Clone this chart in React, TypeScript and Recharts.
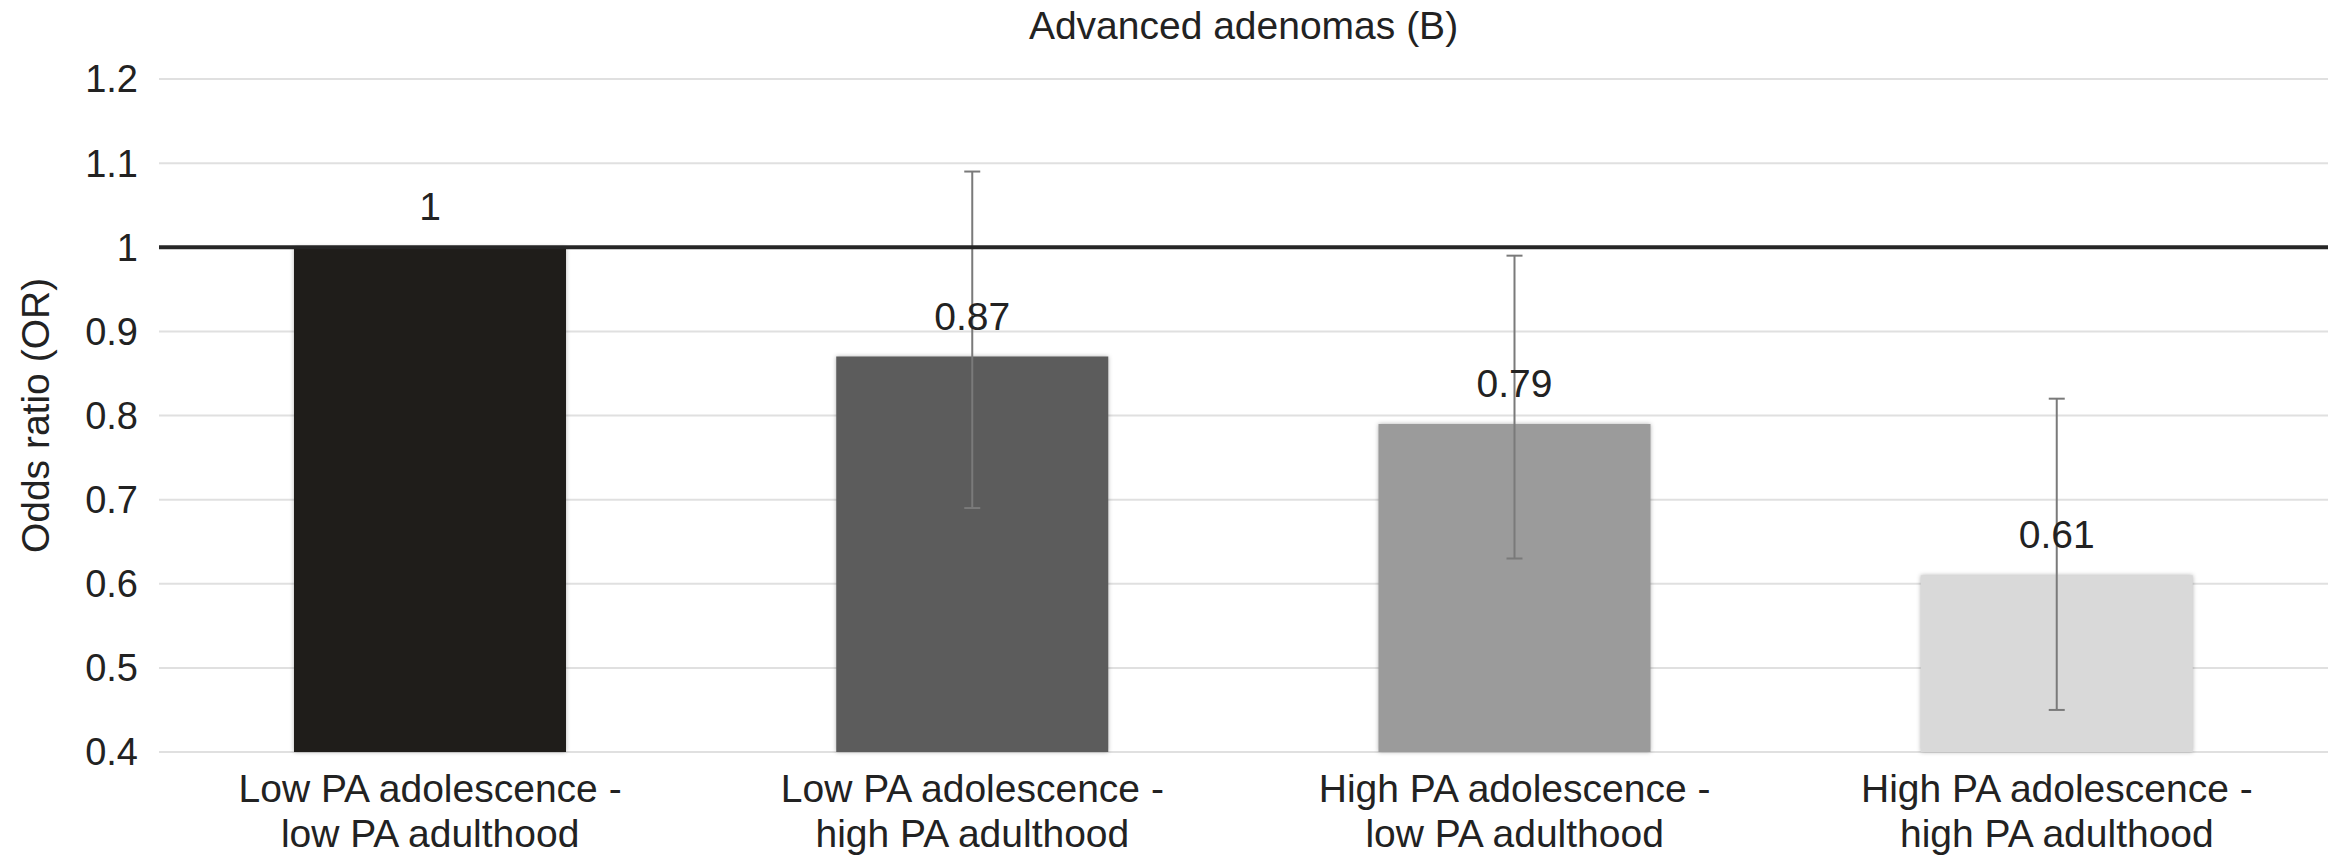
import React from 'react';
import {
  ComposedChart,
  Bar,
  XAxis,
  YAxis,
  CartesianGrid,
  ReferenceLine,
  ErrorBar,
  LabelList,
  Cell,
} from 'recharts';

// PA groups (adolescence - adulthood), two lines per axis label
const groups = [
  'Low PA adolescence -\nlow PA adulthood',
  'Low PA adolescence -\nhigh PA adulthood',
  'High PA adolescence -\nlow PA adulthood',
  'High PA adolescence -\nhigh PA adulthood',
];
const oddsRatio = [1, 0.87, 0.79, 0.61];
const ciLower = [1, 0.69, 0.63, 0.45];
const ciUpper = [1, 1.09, 0.99, 0.82];
const barColors = ['#1f1d1a', '#5c5c5c', '#9b9b9b', '#d9d9d9'];
const yTicks = [0.4, 0.5, 0.6, 0.7, 0.8, 0.9, 1, 1.1, 1.2];

const data = groups.map((name, i) => ({
  name,
  or: oddsRatio[i],
  ci: [oddsRatio[i] - ciLower[i], ciUpper[i] - oddsRatio[i]],
}));

const FONT = '"Liberation Sans", Arial, Helvetica, sans-serif';
const TEXT = '#222';
const FS = 39;

const GroupTick = ({ x, y, payload }: any) => {
  const lines = String(payload.value).split('\n');
  return (
    <text x={x} y={y} textAnchor="middle" fill={TEXT} fontSize={FS} fontFamily={FONT}>
      {lines.map((line, i) => (
        <tspan key={i} x={x} dy={i === 0 ? 50 : 45}>
          {line}
        </tspan>
      ))}
    </text>
  );
};

const fmt = (v: number) => String(Number(v.toFixed(2)));

export default function App() {
  return (
    <div style={{ position: 'absolute', left: 0, top: 0, width: 2341, height: 856, background: '#fff', fontFamily: FONT }}>
      <div
        style={{
          position: 'absolute',
          left: 159,
          width: 2169,
          top: 6,
          textAlign: 'center',
          fontSize: FS,
          lineHeight: '39px',
          color: TEXT,
        }}
      >
        Advanced adenomas (B)
      </div>
      <ComposedChart
        width={2341}
        height={856}
        data={data}
        margin={{ top: 79, right: 13, bottom: 74, left: 0 }}
        barSize={272}
      >
        <CartesianGrid vertical={false} stroke="#e0e0e0" strokeWidth={2} />
        <XAxis
          dataKey="name"
          height={30}
          axisLine={false}
          tickLine={false}
          tickSize={0}
          tickMargin={0}
          interval={0}
          tick={<GroupTick />}
        />
        <YAxis
          width={159}
          domain={[0.4, 1.2]}
          ticks={yTicks}
          axisLine={false}
          tickLine={false}
          tickSize={0}
          tickMargin={21}
          tickFormatter={(v: number) => fmt(v)}
          tick={{ fill: TEXT, fontSize: 38, fontFamily: FONT }}
          label={{
            value: 'Odds ratio (OR)',
            angle: -90,
            position: 'insideLeft',
            offset: 35,
            style: { textAnchor: 'middle', fill: TEXT, fontSize: FS, fontFamily: FONT },
          }}
        />
        <Bar dataKey="or" isAnimationActive={false} style={{ filter: 'drop-shadow(0 0 2px rgba(0,0,0,0.3))' }}>
          {data.map((d, i) => (
            <Cell key={d.name} fill={barColors[i]} />
          ))}
          <ErrorBar dataKey="ci" direction="y" width={8} stroke="#7a7a7a" strokeWidth={2} isAnimationActive={false} />
          <LabelList
            dataKey="or"
            position="top"
            offset={27}
            formatter={(v: any) => fmt(Number(v))}
            style={{ fill: TEXT, fontSize: FS, fontFamily: FONT }}
          />
        </Bar>
        <ReferenceLine y={1} stroke="#262626" strokeWidth={4} ifOverflow="visible" />
      </ComposedChart>
    </div>
  );
}
